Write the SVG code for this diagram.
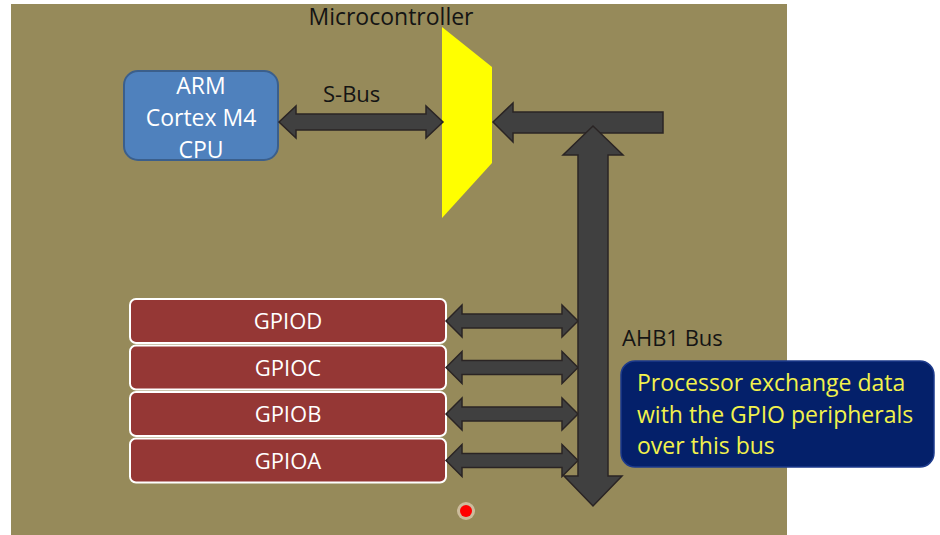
<svg xmlns="http://www.w3.org/2000/svg" width="940" height="535" viewBox="0 0 940 535">
  <style>
    .lbl { font-family: "Open Sans", "Liberation Sans", sans-serif; font-size: 22px; fill: #141414; }
    .cpu { font-family: "Open Sans", "Liberation Sans", sans-serif; font-size: 23px; fill: #ffffff; text-anchor: middle; }
    .gpio rect { fill: #953735; stroke: #ffffff; stroke-width: 2; }
    .gpio text { font-family: "Open Sans", "Liberation Sans", sans-serif; font-size: 22px; fill: #ffffff; text-anchor: middle; }
    .bus { fill: #404040; stroke: #2a2424; stroke-width: 1.5; stroke-linejoin: miter; }
    .note { font-family: "Open Sans", "Liberation Sans", sans-serif; font-size: 23px; fill: #f2f24c; }
  </style>
  <rect x="0" y="0" width="940" height="535" fill="#ffffff"/>
  <rect id="background" x="11" y="4" width="776" height="531" fill="#968a5a"/>

  <g id="microcontroller-label">
    <text class="lbl" x="391" y="25" text-anchor="middle" style="font-size:23px">Microcontroller</text>
  </g>

  <g id="cpu">
    <rect x="124" y="71" width="154" height="89" rx="14" fill="#4f81bd" stroke="#3b5f8c" stroke-width="2"/>
    <text class="cpu" x="201" y="94">ARM</text>
    <text class="cpu" x="201" y="126">Cortex M4</text>
    <text class="cpu" x="201" y="158">CPU</text>
  </g>

  <g id="bus-matrix">
    <polygon points="442,27 492,67 492,163 442,218" fill="#ffff00"/>
  </g>

  <g id="gpiod" class="gpio">
    <rect x="130" y="299" width="316" height="44" rx="6"/>
    <text x="288" y="329">GPIOD</text>
  </g>
  <g id="gpioc" class="gpio">
    <rect x="130" y="345.5" width="316" height="44" rx="6"/>
    <text x="288" y="375.5">GPIOC</text>
  </g>
  <g id="gpiob" class="gpio">
    <rect x="130" y="392" width="316" height="44" rx="6"/>
    <text x="288" y="422">GPIOB</text>
  </g>
  <g id="gpioa" class="gpio">
    <rect x="130" y="438.5" width="316" height="44" rx="6"/>
    <text x="288" y="468.5">GPIOA</text>
  </g>

  <g id="connectors">
    <polygon class="bus" points="279,122 296,106 296,114 426,114 426,106 443,122 426,138 426,130 296,130 296,138"/>
    <polygon class="bus" points="493,122 513,103 513,112 663,112 663,133 513,133 513,142"/>
    <polygon class="bus" points="446,321 462,305 462,314 562,314 562,305 578,321 562,337 562,328 462,328 462,337"/>
    <polygon class="bus" points="446,367.5 462,351.5 462,360.5 562,360.5 562,351.5 578,367.5 562,383.5 562,374.5 462,374.5 462,383.5"/>
    <polygon class="bus" points="446,414 462,398 462,407 562,407 562,398 578,414 562,430 562,421 462,421 462,430"/>
    <polygon class="bus" points="446,460.5 462,444.5 462,453.5 562,453.5 562,444.5 578,460.5 562,476.5 562,467.5 462,467.5 462,476.5"/>
    <polygon class="bus" points="593,126 623,155 608,155 608,476 622,476 593,506 564,476 578,476 578,155 563,155"/>
  </g>

  <g id="sbus-label">
    <text class="lbl" x="323" y="102">S-Bus</text>
  </g>
  <g id="ahb1-label">
    <text class="lbl" x="622" y="346">AHB1 Bus</text>
  </g>

  <g id="callout">
    <rect x="621" y="361" width="313" height="106" rx="14" fill="#04206a" stroke="#1d3a8c" stroke-width="1.5"/>
    <text class="note" x="637" y="391">Processor exchange data</text>
    <text class="note" x="637" y="423">with the GPIO peripherals</text>
    <text class="note" x="637" y="454">over this bus</text>
  </g>

  <g id="pointer">
    <circle cx="466" cy="511" r="9" fill="#f0dcc8" opacity="0.6"/>
    <circle cx="466" cy="511" r="6" fill="#ff0000"/>
  </g>
</svg>
